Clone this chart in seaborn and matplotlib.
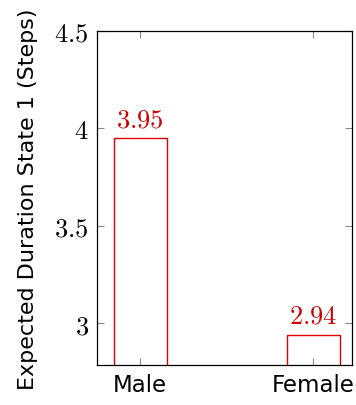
import matplotlib
matplotlib.use("Agg")
import matplotlib.pyplot as plt
import seaborn as sns
import pandas as pd

categories = ["Male", "Female"]
values = [3.95, 2.94]
yticks = [3, 3.5, 4, 4.5]
ytick_labels = ["3", "3.5", "4", "4.5"]
ylabel = "Expected Duration State 1 (Steps)"

sns.set_theme(style="white")
plt.rcParams["font.family"] = ["DejaVu Sans"]
plt.rcParams["mathtext.fontset"] = "cm"
plt.rcParams["text.color"] = "black"
plt.rcParams["axes.labelcolor"] = "black"
plt.rcParams["xtick.labelcolor"] = "black"
plt.rcParams["ytick.labelcolor"] = "black"

df = pd.DataFrame({"cat": categories, "val": values})

fig = plt.figure(figsize=(3.56, 4.06), dpi=100)
ax = fig.add_axes([97 / 356, 1 - 365.7 / 406, (352 - 97) / 356, (365.7 - 32) / 406])

sns.barplot(data=df, x="cat", y="val", ax=ax, fill=False, color="#e00000",
            width=0.306, linewidth=1.0, errorbar=None)
for p in ax.patches:
    p.set_edgecolor("#e00000")
    p.set_facecolor("none")

for i, v in enumerate(values):
    ax.text(i, v + 0.03, f"${v:.2f}$", ha="center", va="bottom",
            fontsize=19, color="#cc0000")

ax.set_ylim(2.786, 4.5)
ax.set_xlim(-0.249, 1.225)
ax.set_yticks(yticks)
ax.set_yticklabels([f"${t}$" for t in ytick_labels], fontsize=19)
ax.set_xticks(range(len(categories)))
ax.set_xticklabels(categories, fontsize=16.5)
ax.set_xlabel("")
ax.set_ylabel(ylabel, fontsize=16, labelpad=12)

for s in ax.spines.values():
    s.set_visible(True)
    s.set_color("black")
    s.set_linewidth(0.9)

ax.tick_params(axis="both", direction="in", length=5, width=0.8, color="#888888",
               left=True, right=True, bottom=True, top=True, pad=6)

fig.savefig("out.png", dpi=100)
